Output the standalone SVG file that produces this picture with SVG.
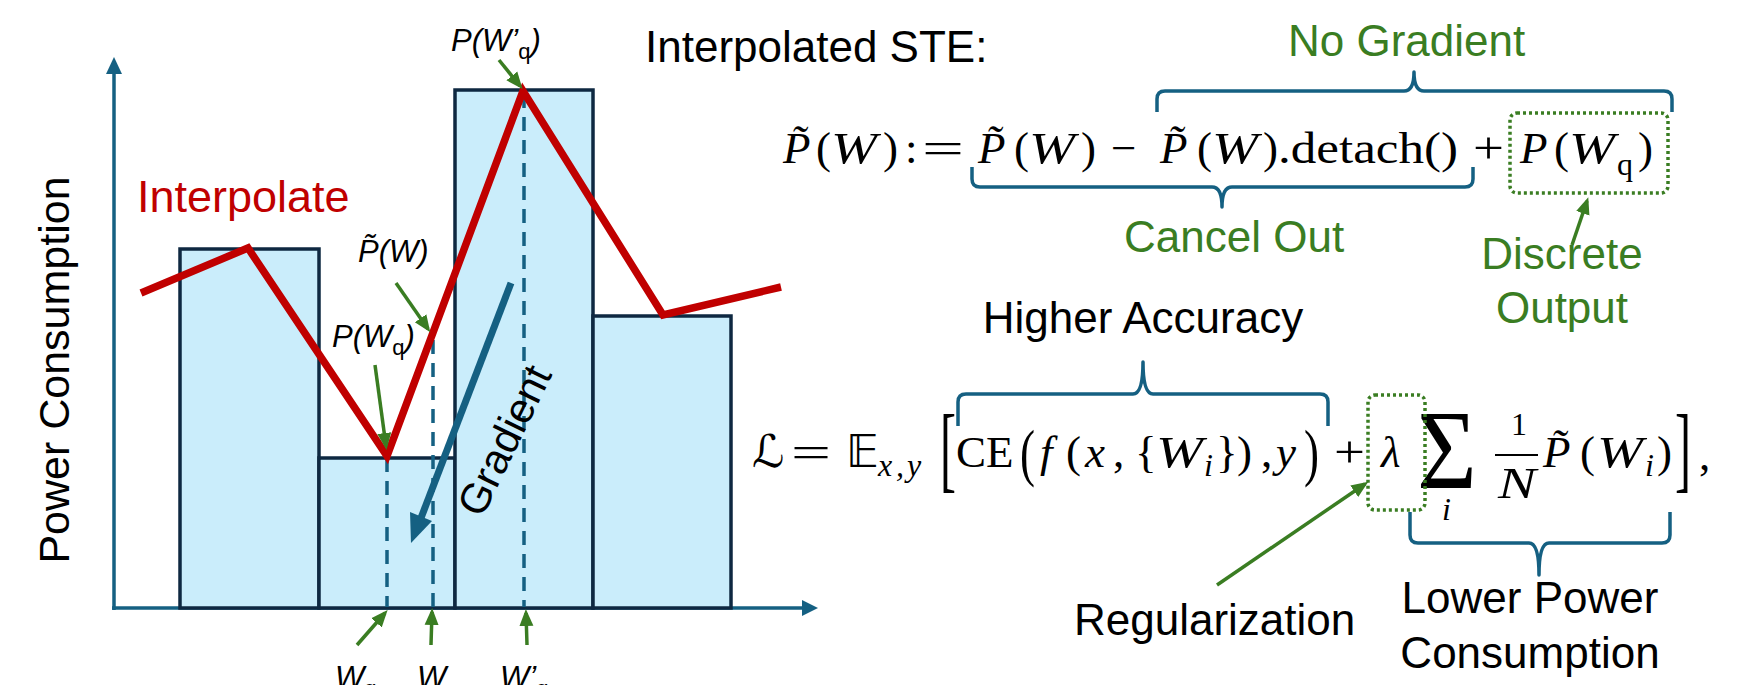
<svg xmlns="http://www.w3.org/2000/svg" width="1757" height="685" viewBox="0 0 1757 685">
<defs>
<style>
.lbl{font-family:"Liberation Sans",Arial,sans-serif;font-size:44px;fill:#000}
.grn{fill:#3a7d22}
.red{fill:#c00000}
.it{font-family:"Liberation Sans",Arial,sans-serif;font-style:italic;font-size:31px;fill:#000}
.up{font-style:normal}
.m{font-family:"Liberation Serif","Times New Roman",serif;font-size:45px;fill:#000}
.i{font-style:italic}
.s{font-size:32px}
.sym{font-family:"DejaVu Sans","DejaVu Serif",sans-serif}
.bar{fill:#caedfb;stroke:#0e2841;stroke-width:3.5}
.axis{stroke:#156082;stroke-width:3.5;fill:none}
.dash{stroke:#156082;stroke-width:3.5;stroke-dasharray:14 9;fill:none}
.brace{stroke:#156082;stroke-width:3.5;fill:none;stroke-linejoin:round}
.garrow{stroke:#3a7d22;stroke-width:3.5;fill:none;marker-end:url(#gh)}
.dot{stroke:#3a7d22;stroke-width:3.5;stroke-dasharray:3 3;fill:none}
</style>
<marker id="gh" markerUnits="userSpaceOnUse" markerWidth="18" markerHeight="16" refX="13" refY="8" orient="auto">
<path d="M0,1 L17,8 L0,15 z" fill="#3a7d22"/>
</marker>
</defs>
<rect width="1757" height="685" fill="#fff"/>

<g id="axes">
<line class="axis" x1="114" y1="610" x2="114" y2="72"/>
<polygon points="114,57 106,74 122,74" fill="#156082"/>
<line class="axis" x1="112" y1="608" x2="804" y2="608"/>
<polygon points="818,608 802,600 802,616" fill="#156082"/>
</g>

<g id="bars">
<rect id="bar1" class="bar" x="180" y="249" width="139" height="359"/>
<rect id="bar2" class="bar" x="319" y="458" width="136" height="150"/>
<rect id="bar3" class="bar" x="455" y="90" width="138" height="518"/>
<rect id="bar4" class="bar" x="593" y="316" width="138" height="292"/>
</g>

<g id="guides">
<line class="dash" x1="387" y1="458" x2="387" y2="607"/>
<line class="dash" x1="433" y1="340" x2="433" y2="607"/>
<line class="dash" x1="524" y1="94" x2="524" y2="607"/>
</g>

<g id="interp">
<polyline points="141,293 248,248 387,456 523,91 663,315 781,287" fill="none" stroke="#c00000" stroke-width="7.5" stroke-linejoin="miter"/>
</g>

<g id="gradient">
<line x1="511" y1="283" x2="421" y2="518" stroke="#156082" stroke-width="7"/>
<polygon points="411,543 432,521 410,512" fill="#156082"/>
<text class="lbl" style="font-size:42px" transform="translate(482,519) rotate(-64)">Gradient</text>
</g>

<g id="connectors">
<line class="garrow" x1="499" y1="60" x2="520" y2="86"/>
<line class="garrow" x1="396" y1="283" x2="428" y2="329"/>
<line class="garrow" x1="375" y1="365" x2="386" y2="446"/>
<line class="garrow" x1="357" y1="645" x2="385" y2="613"/>
<line class="garrow" x1="431" y1="645" x2="432" y2="612"/>
<line class="garrow" x1="527" y1="645" x2="526" y2="613"/>
<line class="garrow" x1="1572" y1="245" x2="1587" y2="201"/>
<line class="garrow" x1="1217" y1="585" x2="1365" y2="484"/>
</g>

<g id="chart-labels">
<text class="lbl" style="font-size:43px" text-anchor="middle" transform="translate(69,370) rotate(-90)">Power Consumption</text>
<text class="lbl red" x="137" y="212" style="font-size:45px">Interpolate</text>
<text class="it" x="451" y="51">P(W’<tspan class="up" style="font-size:22px" dy="8">q</tspan><tspan dy="-8">)</tspan></text>
<text class="it" x="358" y="262">P̃(W)</text>
<text class="it" x="332" y="347">P(W<tspan class="up" style="font-size:22px" dy="8">q</tspan><tspan dy="-8">)</tspan></text>
<text class="it" x="335" y="688">W<tspan class="up" style="font-size:22px" dy="8">q</tspan></text>
<text class="it" x="417" y="688">W</text>
<text class="it" x="500" y="688">W’<tspan class="up" style="font-size:22px" dy="8">q</tspan></text>
</g>

<g id="ste">
<text class="lbl" x="645" y="62">Interpolated STE:</text>
<text class="lbl grn" x="1288" y="56">No Gradient</text>
<path class="brace" d="M1157 112 V99 Q1157 91 1165 91 H1404 Q1414 91 1414 72 Q1414 91 1424 91 H1664 Q1672 91 1672 99 V112"/>
<text class="m" y="163"><tspan class="i" x="783">P̃</tspan><tspan x="816">(</tspan><tspan class="i" x="831" textLength="46" lengthAdjust="spacingAndGlyphs">W</tspan><tspan x="883">)</tspan><tspan x="905">:</tspan></text>
<text class="m" x="922" y="163" textLength="42" lengthAdjust="spacingAndGlyphs">=</text>
<text class="m" y="163"><tspan class="i" x="978">P̃</tspan><tspan x="1014">(</tspan><tspan class="i" x="1029" textLength="46" lengthAdjust="spacingAndGlyphs">W</tspan><tspan x="1081">)</tspan><tspan x="1111">−</tspan><tspan class="i" x="1160">P̃</tspan><tspan x="1197">(</tspan><tspan class="i" x="1212" textLength="46" lengthAdjust="spacingAndGlyphs">W</tspan><tspan x="1263">)</tspan></text>
<text class="m" x="1278" y="163" textLength="180" lengthAdjust="spacingAndGlyphs">.detach()</text>
<text class="m" x="1473" y="163" textLength="31" lengthAdjust="spacingAndGlyphs">+</text>
<text class="m" y="163"><tspan class="i" x="1520">P</tspan><tspan x="1554">(</tspan><tspan class="i" x="1569" textLength="46" lengthAdjust="spacingAndGlyphs">W</tspan><tspan class="s" x="1617" y="175">q</tspan><tspan x="1638" y="163">)</tspan></text>
<rect class="dot" x="1510" y="113" width="158" height="80" rx="7"/>
<path class="brace" d="M972 167 V179 Q972 187 980 187 H1212 Q1222 187 1222 207 Q1222 187 1232 187 H1465 Q1473 187 1473 179 V167"/>
<text class="lbl grn" x="1124" y="252">Cancel Out</text>
<text class="lbl grn" x="1562" y="269" text-anchor="middle">Discrete</text>
<text class="lbl grn" x="1562" y="323" text-anchor="middle">Output</text>
</g>

<g id="loss">
<text class="lbl" x="1143" y="333" text-anchor="middle">Higher Accuracy</text>
<path class="brace" d="M958 426 V402 Q958 394 966 394 H1133 Q1143 394 1143 362 Q1143 394 1153 394 H1320 Q1328 394 1328 402 V426"/>
<text class="m sym" x="752" y="467">ℒ</text>
<text class="m" x="791" y="467" textLength="40" lengthAdjust="spacingAndGlyphs">=</text>
<text class="m sym" x="846" y="467">𝔼</text>
<text class="m i s" y="476"><tspan x="878">x</tspan><tspan x="896">,</tspan><tspan x="907">y</tspan></text>
<text class="m" style="font-size:48px" transform="translate(940,480) scale(1,2)">[</text>
<text class="m" x="956" y="467">CE</text>
<text class="m" transform="translate(1020,474) scale(1,1.4)">(</text>
<text class="m" y="467"><tspan class="i" x="1040">f</tspan><tspan x="1066">(</tspan><tspan class="i" x="1085">x</tspan><tspan x="1113">,</tspan><tspan x="1135">{</tspan><tspan class="i" x="1156" textLength="47" lengthAdjust="spacingAndGlyphs">W</tspan><tspan class="i s" x="1204" y="476">i</tspan><tspan x="1216" y="467">}</tspan><tspan x="1237">)</tspan><tspan x="1261">,</tspan><tspan class="i" x="1276">y</tspan></text>
<text class="m" transform="translate(1304,474) scale(1,1.4)">)</text>
<text class="m" x="1334" y="467" textLength="31" lengthAdjust="spacingAndGlyphs">+</text>
<text class="m i" x="1381" y="467">λ</text>
<text class="m" style="font-size:98px" transform="translate(1417,488) scale(1.05,1.15)">Σ</text>
<text class="m i s" x="1442" y="520">i</text>
<text class="m s" x="1511" y="435">1</text>
<line x1="1495" y1="455" x2="1538" y2="455" stroke="#000" stroke-width="2"/>
<text class="m i" x="1498" y="498" textLength="38" lengthAdjust="spacingAndGlyphs">N</text>
<text class="m" y="467"><tspan class="i" x="1543">P̃</tspan><tspan x="1580">(</tspan><tspan class="i" x="1597" textLength="46" lengthAdjust="spacingAndGlyphs">W</tspan><tspan class="i s" x="1645" y="476">i</tspan><tspan x="1657" y="467">)</tspan></text>
<text class="m" style="font-size:48px" transform="translate(1675,480) scale(1,2)">]</text>
<text class="m" x="1699" y="470">,</text>
<rect class="dot" x="1368" y="395" width="57" height="115" rx="7"/>
<path class="brace" d="M1410 512 V535 Q1410 543 1418 543 H1529 Q1539 543 1539 575 Q1539 543 1549 543 H1662 Q1670 543 1670 535 V512"/>
<text class="lbl" x="1074" y="635">Regularization</text>
<text class="lbl" x="1530" y="613" text-anchor="middle">Lower Power</text>
<text class="lbl" x="1530" y="668" text-anchor="middle">Consumption</text>
</g>
</svg>
